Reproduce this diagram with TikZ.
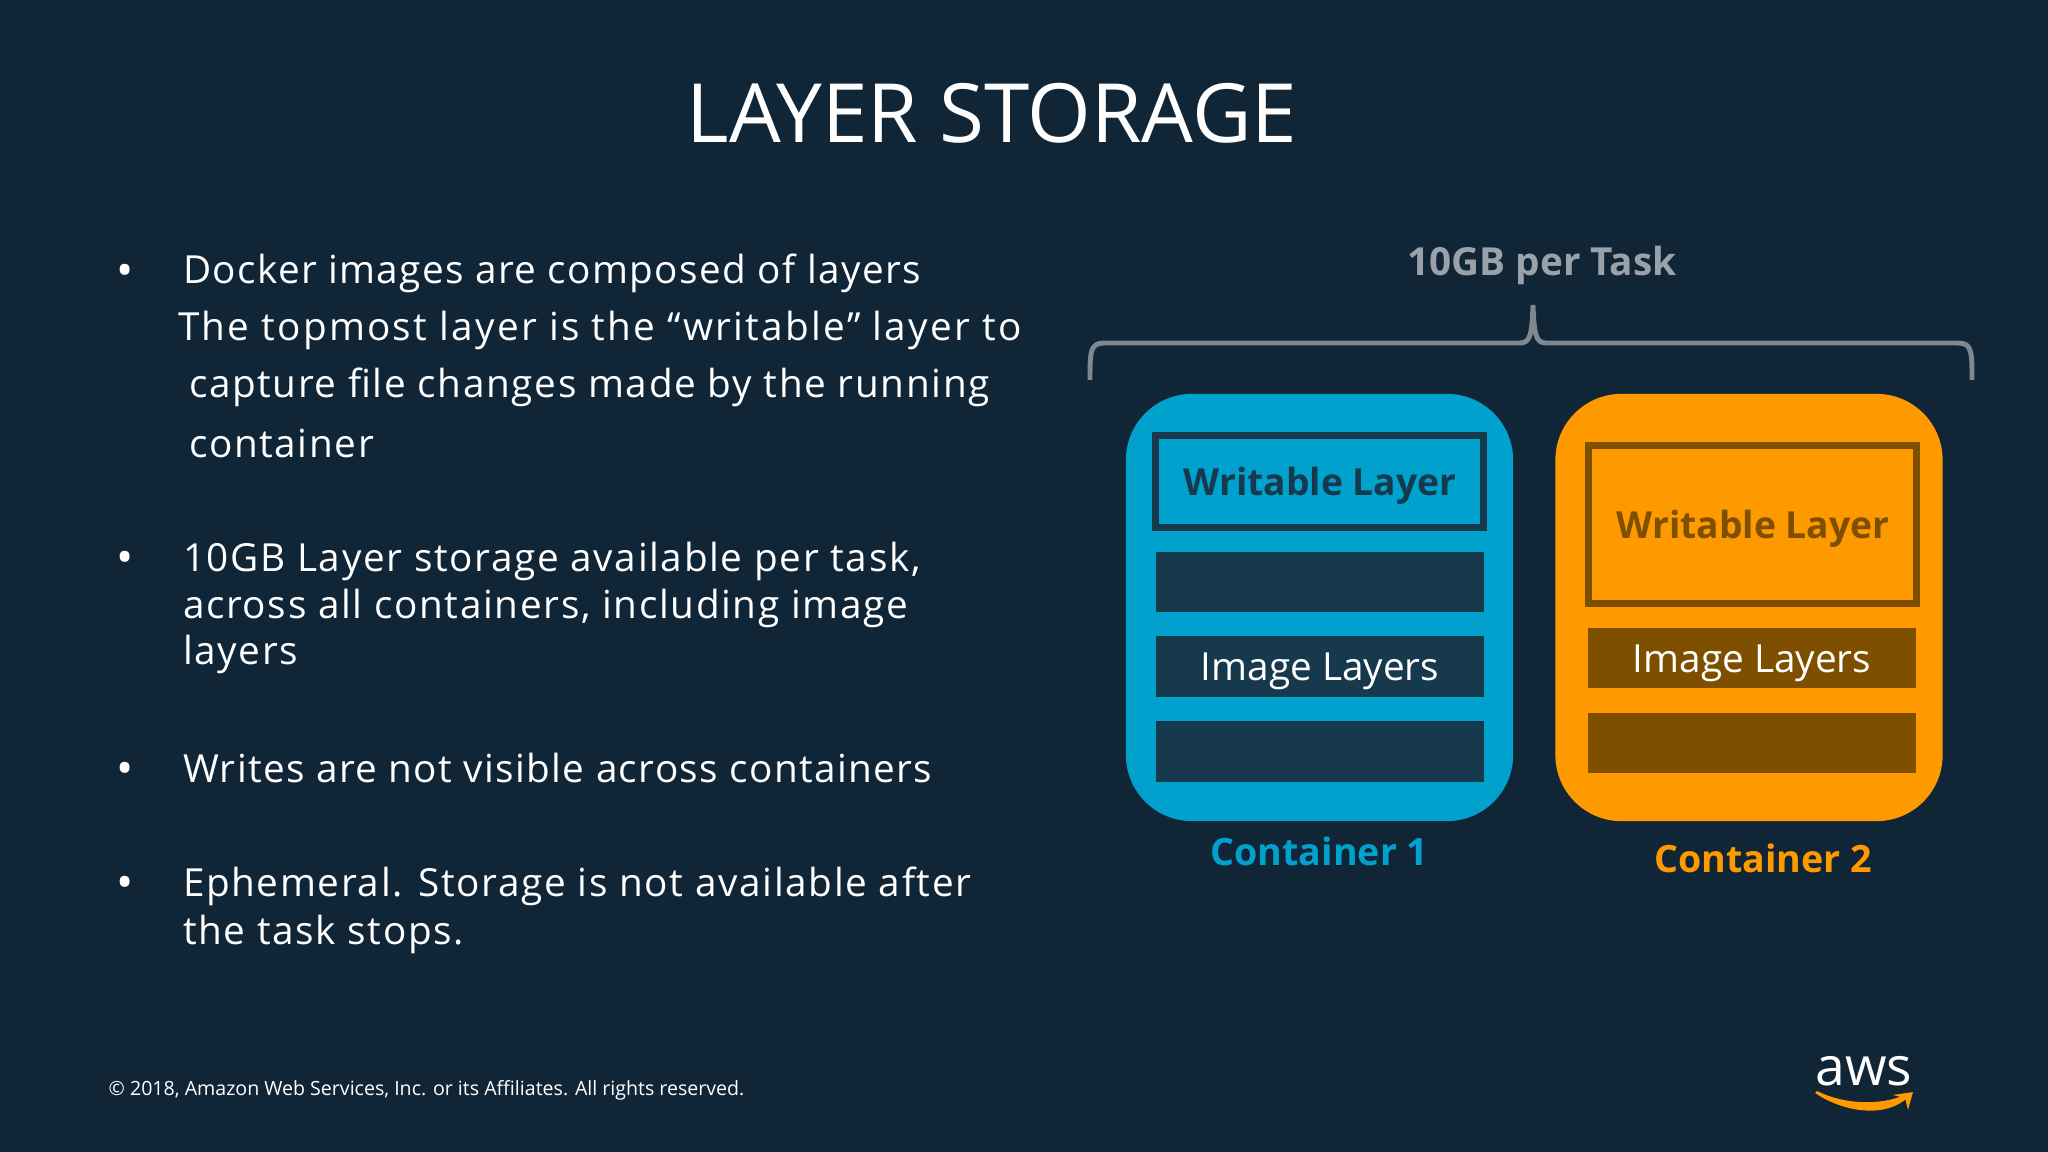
\documentclass[tikz,border=0pt]{standalone}
\usepackage{fontspec}
\setmainfont{Open Sans}
\newfontfamily\bodyf[LetterSpace=4.3]{Open Sans}
\newfontfamily\bodyw[LetterSpace=5.8]{Open Sans}
\newfontfamily\bodyn[LetterSpace=3.6]{Open Sans}
\definecolor{bgc}{HTML}{102536}
\definecolor{blueC}{HTML}{00A1CC}
\definecolor{orangeC}{HTML}{FF9900}
\definecolor{darkbar}{HTML}{17394E}
\definecolor{brownbar}{HTML}{7F4F00}
\definecolor{graytxt}{HTML}{9AA1A8}
\definecolor{graybr}{HTML}{7F878F}
\tikzset{
  x=0.01cm,y=-0.01cm,
  box/.style={rectangle,inner sep=0pt,outer sep=0pt},
  contbox/.style={box,rounded corners=0.66cm,minimum width=3.87cm,minimum height=4.27cm},
  barbox/.style={box,minimum width=3.28cm,minimum height=0.605cm},
  imgtxt/.style={anchor=center,inner sep=0pt,text=white,font=\fontsize{11}{13}\selectfont},
  wrbox/.style={box,line width=2pt,minimum width=3.28cm},
  wrtxt/.style={anchor=center,inner sep=0pt,font=\bfseries\fontsize{10.6}{13}\selectfont},
  body/.style={anchor=base west,inner sep=0pt,outer sep=0pt,text=white,font=\bodyf\fontsize{11}{13}\selectfont},
  dot/.style={anchor=center,inner sep=0pt,outer sep=0pt,text=white,font=\fontsize{13}{15}\selectfont},
  lab/.style={anchor=center,inner sep=0pt,font=\bfseries\fontsize{10.7}{13}\selectfont}
}
\begin{document}
\begin{tikzpicture}
\useasboundingbox (0,0) rectangle (2048,1152);
\fill[bgc] (0,0) rectangle (2048,1152);

\node[anchor=base,inner sep=0pt,text=white,font=\fontsize{23.25}{26}\selectfont] (title) at (992,143) {LAYER STORAGE};

\node[dot] (b1) at (125.5,275) {•};
\node[body,font=\bodyn\fontsize{11}{13}\selectfont] (l1) at (183,284) {Docker images are composed of layers};
\node[body,font=\bodyw\fontsize{11}{13}\selectfont] (l2) at (178,341) {The topmost layer is the “writable” layer to};
\node[body] (l3) at (189,398) {capture file changes made by the running};
\node[body] (l4) at (189,458) {container};
\node[dot] (b2) at (125.5,562) {•};
\node[body] (l5) at (183,571) {10GB Layer storage available per task,};
\node[body] (l6) at (183,619) {across all containers, including image};
\node[body] (l7) at (183,665) {layers};
\node[dot] (b3) at (125.5,773) {•};
\node[body,font=\bodyn\fontsize{11}{13}\selectfont] (l8) at (183,782) {Writes are not visible across containers};
\node[dot] (b4) at (125.5,887) {•};
\node[body] (l9) at (183,896) {Ephemeral. Storage is not available after};
\node[body] (l10) at (183,944) {the task stops.};

\node[anchor=base west,inner sep=0pt,text=white,font=\fontsize{5.57}{7}\selectfont] (foot) at (108,1095) {© 2018, Amazon Web Services, Inc. or its Affiliates. All rights reserved.};

\node[lab,text=graytxt,font=\bfseries\fontsize{11}{13}\selectfont] (ten) at (1542,265) {10GB per Task};
\draw[graybr,line width=1.4pt] (1090,380) .. controls (1090,352) and (1090,343) .. (1104,343)
  -- (1520,343) .. controls (1530,343) and (1532,335) .. (1533,305)
  .. controls (1534,335) and (1536,343) .. (1546,343)
  -- (1958,343) .. controls (1972,343) and (1972,352) .. (1972,380);

\node[contbox,fill=blueC] (c1) at (1319.5,607.5) {};
\node[contbox,fill=orangeC] (c2) at (1749,607.5) {};

\node[wrbox,draw=darkbar,minimum height=0.91cm] (w1) at (1319.5,481.5) {};
\node[wrtxt,text=darkbar] (w1t) at (1320,486) {Writable Layer};
\node[barbox,fill=darkbar] (a1) at (1320,582) {};
\node[barbox,fill=darkbar] (a2) at (1320,666.5) {};
\node[imgtxt] (a2t) at (1320,671) {Image Layers};
\node[barbox,fill=darkbar] (a3) at (1320,751.5) {};

\node[wrbox,draw=brownbar,minimum height=1.57cm] (w2) at (1752.5,524.5) {};
\node[wrtxt,text=brownbar] (w2t) at (1753,529) {Writable Layer};
\node[barbox,fill=brownbar] (d1) at (1752,658) {};
\node[imgtxt] (d1t) at (1752,663) {Image Layers};
\node[barbox,fill=brownbar] (d2) at (1752,743) {};

\node[lab,text=blueC] (n1) at (1319.5,851) {Container 1};
\node[lab,text=orangeC] (n2) at (1763,858) {Container 2};

\node[anchor=base,inner sep=0pt,text=white,font=\fontsize{15.2}{18}\selectfont] (aws) at (1864,1085) {aws};
\fill[orangeC] (1815,1093) .. controls (1840,1110) and (1880,1119) .. (1905,1100)
  .. controls (1908,1097) and (1906,1094) .. (1902,1096)
  .. controls (1880,1105) and (1845,1105) .. (1817,1091) -- cycle;
\fill[orangeC] (1893,1095) -- (1913,1092) -- (1908,1110) -- (1905,1098) -- cycle;
\end{tikzpicture}
\end{document}
